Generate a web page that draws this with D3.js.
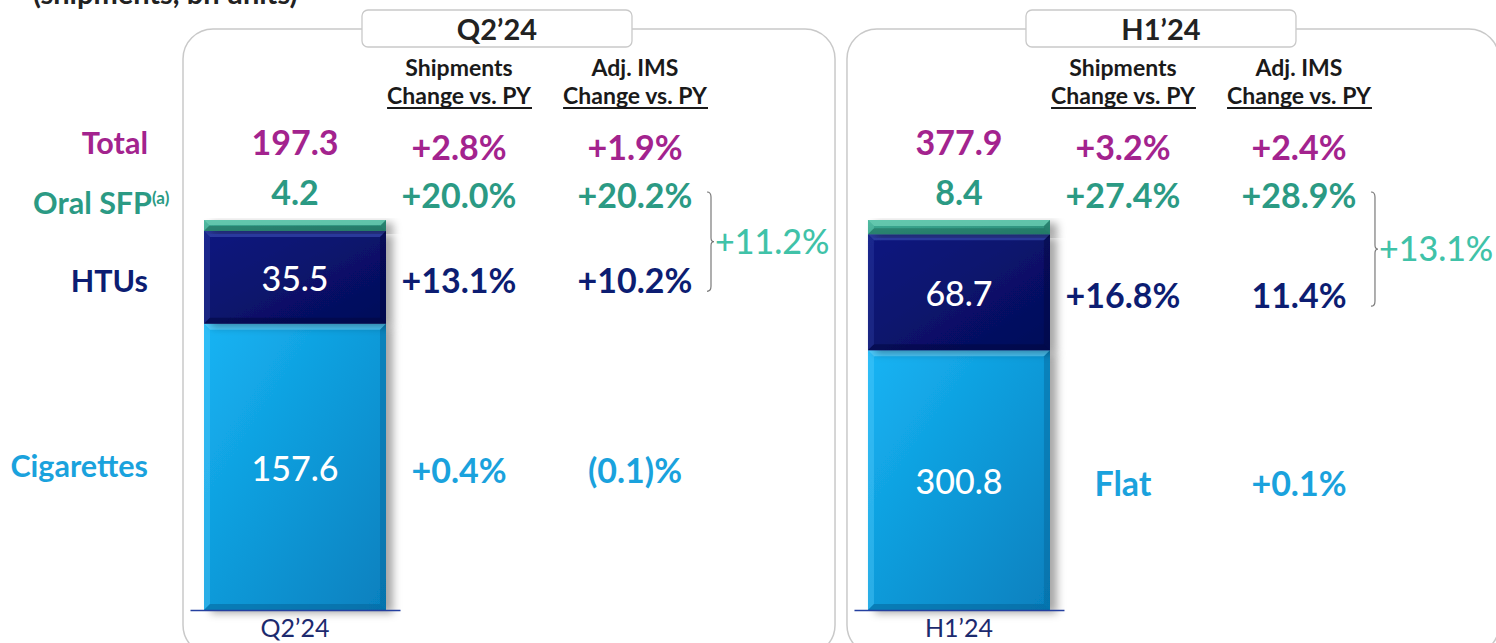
<!DOCTYPE html>
<html><head><meta charset="utf-8">
<script src="https://cdn.jsdelivr.net/npm/d3@7"></script>
<style>
html,body{margin:0;padding:0;background:#fff;}
svg{display:block;font-family:Lato,"Noto Sans",sans-serif;}
</style></head>
<body>
<svg id="chart" width="1496" height="643"></svg>
<script>
// ---------- data ----------
const periods = ["Q2’24", "H1’24"];
const segments = ["Cigarettes", "HTUs", "Oral SFP"];
const cigarettes = [157.6, 300.8];
const htus = [35.5, 68.7];
const oralSfp = [4.2, 8.4];
const totals = [197.3, 377.9];
const axisFloor = [48, 147]; // truncated value axis start for each bar
const shipTotal = ["+2.8%", "+3.2%"];
const shipOral = ["+20.0%", "+27.4%"];
const shipHtu = ["+13.1%", "+16.8%"];
const shipCig = ["+0.4%", "Flat"];
const imsTotal = ["+1.9%", "+2.4%"];
const imsOral = ["+20.2%", "+28.9%"];
const imsHtu = ["+10.2%", "11.4%"];
const imsCig = ["(0.1)%", "+0.1%"];
const smokeFree = ["+11.2%", "+13.1%"];
const rowLabels = ["Total", "Oral SFP", "HTUs", "Cigarettes"];
const colHeaders = [["Shipments", "Change vs. PY"], ["Adj. IMS", "Change vs. PY"]];

// ---------- styles ----------
const C = {
  magenta: "#a3238e", teal: "#2b9a84", navy: "#0c1d72", blue: "#1aa2dd",
  bracket: "#40c2a8", dark: "#1a1a1a", border: "#c9c9c9"
};
const segFill = {
  "Cigarettes": {a: "#16b4f4", b: "#0680be", hi: "#5fd2ff", lo: "#05669a"},
  "HTUs": {a: "#0c1a80", b: "#040b58", hi: "#3445a8", lo: "#020741"},
  "Oral SFP": {a: "#3fae96", b: "#2a8a76", hi: "#6fd0b6", lo: "#1f6b5b"}
};
const VAL = 34, LAB = 30.5;

const svg = d3.select("#chart");
const defs = svg.append("defs");
Object.entries(segFill).forEach(([k, f], i) => {
  const g = defs.append("linearGradient").attr("id", "g" + i)
    .attr("x1", "0").attr("y1", "0").attr("x2", "1").attr("y2", "1");
  g.append("stop").attr("offset", "0").attr("stop-color", f.a);
  g.append("stop").attr("offset", "1").attr("stop-color", f.b);
  f.id = "g" + i;
});
const sh = defs.append("filter").attr("id", "shadow").attr("x", "-10%").attr("y", "-10%").attr("width", "130%").attr("height", "130%");
sh.append("feDropShadow").attr("dx", 7).attr("dy", 3).attr("stdDeviation", 4)
  .attr("flood-color", "#000").attr("flood-opacity", 0.35);

// sub-title (partly above the top edge, as in the source)
svg.append("text").attr("x", 33).attr("y", 4).attr("font-size", 29).attr("font-weight", 700)
  .attr("fill", "#222").text("(shipments, bn units)");

// panel scale
const xPanel = d3.scaleBand().domain(periods).range([183, 1499]).paddingInner(0.018).paddingOuter(0);
const panelW = xPanel.bandwidth();
const barOff = 21, barW = 182;
const colX = [276, 452];
const yTop = 220, yBase = 610;

const table = periods.map((p, i) => ({period: p, "Cigarettes": cigarettes[i], "HTUs": htus[i], "Oral SFP": oralSfp[i]}));
const stacked = d3.stack().keys(segments)(table);

function txt(g, x, y, s, size, color, weight, anchor) {
  return g.append("text").attr("x", x).attr("y", y).attr("font-size", size)
    .attr("font-weight", weight || 700).attr("fill", color)
    .attr("text-anchor", anchor || "middle").text(s);
}

periods.forEach((p, i) => {
  const px = xPanel(p);
  const g = svg.append("g");
  const y = d3.scaleLinear().domain([axisFloor[i], totals[i]]).range([yBase, yTop]);

  // panel border
  g.append("rect").attr("x", px).attr("y", 29).attr("width", panelW).attr("height", 626)
    .attr("rx", 30).attr("fill", "none").attr("stroke", C.border).attr("stroke-width", 1.5);
  // title box
  g.append("rect").attr("x", px + 179).attr("y", 10).attr("width", 270).attr("height", 37)
    .attr("rx", 6).attr("fill", "#fff").attr("stroke", C.border).attr("stroke-width", 1.3);
  txt(g, px + 314, 40, p, 29, "#222", 700);

  // column headers
  colHeaders.forEach((h, j) => {
    txt(g, px + colX[j], 76, h[0], 23, C.dark, 700);
    const t2 = txt(g, px + colX[j], 104, h[1], 23, C.dark, 700);
    const bb = t2.node().getBBox();
    g.append("line").attr("x1", bb.x).attr("x2", bb.x + bb.width).attr("y1", 108).attr("y2", 108)
      .attr("stroke", C.dark).attr("stroke-width", 2);
  });

  // bars
  const bx = px + barOff;
  const barG = g.append("g");
  stacked.forEach((layer, k) => {
    const d = layer[i];
    const f = segFill[layer.key];
    const y0 = y(d[1]), y1 = y(Math.max(d[0], axisFloor[i]));
    const h = y1 - y0;
    const sg = barG.append("g");
    sg.append("rect").attr("x", bx).attr("y", y0).attr("width", barW).attr("height", h)
      .attr("fill", "url(#" + f.id + ")").attr("filter", "url(#shadow)");
    const b = Math.min(6, h / 2.2);
    const x0 = bx, x1 = bx + barW;
    const poly = (pts, col, op) => sg.append("polygon").attr("points", pts.map(q => q.join(",")).join(" "))
      .attr("fill", col).attr("opacity", op);
    poly([[x0, y0], [x1, y0], [x1 - b, y0 + b], [x0 + b, y0 + b]], f.hi, 0.75);
    poly([[x0, y0], [x0 + b, y0 + b], [x0 + b, y1 - b], [x0, y1]], f.hi, 0.35);
    poly([[x1, y0], [x1 - b, y0 + b], [x1 - b, y1 - b], [x1, y1]], f.lo, 0.45);
    poly([[x0, y1], [x0 + b, y1 - b], [x1 - b, y1 - b], [x1, y1]], f.lo, 0.55);
    const mid = (y0 + y1) / 2;
    if (layer.key !== "Oral SFP") {
      txt(g, bx + barW / 2, mid + 14, d3.format(".1f")(d.data[layer.key]), VAL, "#fff", 500);
    }
    layer.mid = mid;
  });

  // axis
  const xa = d3.scaleBand().domain([p]).range([px + 7, px + 217]);
  const ax = g.append("g").attr("transform", `translate(0,${yBase})`)
    .call(d3.axisBottom(xa).tickSize(0).tickPadding(7));
  ax.select(".domain").attr("stroke", "#2540a0").attr("stroke-width", 1.6);
  ax.selectAll("text").attr("font-size", 25).attr("font-family", "Lato").attr("fill", "#1c2a6e")
    .attr("dy", "0.8em");

  const midCig = stacked[0].mid, midHtu = stacked[1].mid;
  const bc = px + barOff + barW / 2;
  txt(g, bc, 155, d3.format(".1f")(totals[i]), VAL, C.magenta, 700);
  txt(g, bc, 205, d3.format(".1f")(oralSfp[i]), VAL, C.teal, 700);

  const rows = [
    [shipTotal, imsTotal, 160, C.magenta],
    [shipOral, imsOral, 208, C.teal],
    [shipHtu, imsHtu, midHtu + 16, C.navy],
    [shipCig, imsCig, midCig + 16, C.blue]
  ];
  rows.forEach(r => {
    txt(g, px + colX[0], r[2], r[0][i], VAL, r[3], 700);
    txt(g, px + colX[1], r[2], r[1][i], VAL, r[3], 700);
  });

  // bracket for smoke-free
  const bt = 192, bb2 = midHtu + 14, bm = (bt + bb2) / 2;
  const xb = px + 524;
  g.append("path").attr("d",
    `M${xb},${bt} Q${xb + 4},${bt} ${xb + 4},${bt + 5} L${xb + 4},${bm - 4} Q${xb + 4},${bm} ${xb + 7},${bm} ` +
    `Q${xb + 4},${bm} ${xb + 4},${bm + 4} L${xb + 4},${bb2 - 5} Q${xb + 4},${bb2} ${xb},${bb2}`)
    .attr("fill", "none").attr("stroke", "#7a7a7a").attr("stroke-width", 1.2);
  txt(g, px + 532, bm + 12, smokeFree[i], VAL, C.bracket, 500, "start");
});

// row labels (left side)
const rl = svg.append("g");
txt(rl, 148, 154, rowLabels[0], LAB, C.magenta, 700, "end");
txt(rl, 152, 214, rowLabels[1], LAB, C.teal, 700, "end");
txt(rl, 152, 204, "(a)", 17, C.teal, 700, "start");
txt(rl, 148, 292, rowLabels[2], LAB, C.navy, 700, "end");
txt(rl, 148, 477, rowLabels[3], LAB, C.blue, 700, "end");
</script>
</body></html>
